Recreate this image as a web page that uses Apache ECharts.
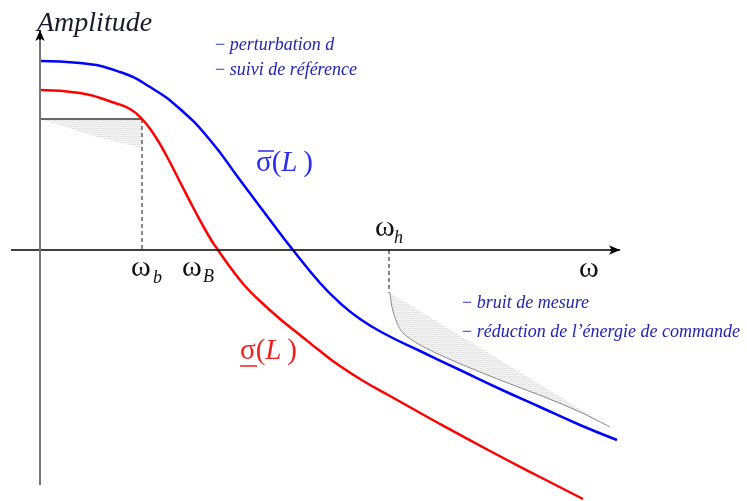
<!DOCTYPE html>
<html>
<head>
<meta charset="utf-8">
<script src="https://cdn.jsdelivr.net/npm/echarts@6/dist/echarts.min.js"></script>
<style>
  html, body { margin: 0; padding: 0; background: #fff; }
  #chart { width: 747px; height: 501px; }
</style>
</head>
<body>
<div id="chart"></div>
<script>
// Log-frequency (x) vs amplitude (y), arbitrary units; 0 on y is the 0 dB line.
const sigmaMaxCurve = [
  [0, 18.9], [4, 18.7], [8, 17.8], [11, 16.3], [14, 14.1], [17, 11.0], [20, 7.0],
  [23, 3.0], [25.3, 0], [28, -3.3], [30, -5.3], [32, -6.9], [34.5, -8.4], [38, -10.1],
  [42, -12.0], [46, -13.9], [50, -15.7], [54, -17.5], [57.7, -19.0]
];
const sigmaMinCurve = [
  [0, 16.0], [4, 15.7], [7.5, 14.7], [9, 14.1], [10.2, 13.1], [11.3, 11.7], [12.5, 9.7],
  [14, 6.8], [15.5, 3.9], [17, 1.2], [17.8, 0], [19, -1.7], [20.5, -3.6], [22, -5.1],
  [24, -6.9], [26, -8.5], [28, -10.1], [30, -11.6], [32.5, -13.2], [35, -14.6],
  [40, -17.4], [45, -20.1], [50, -22.7], [54.3, -24.9]
];
// Low-frequency performance bound (below omega_b)
const omegaB = 10.2;
const lowBoundLevel = 13.1;
const lowZone = [[0, 13.1], [10.2, 13.1], [10.2, 10.2], [5.7, 11.3], [2.3, 12.4], [0.3, 13.0]];
// High-frequency robustness bound (above omega_h)
const omegaH = 34.9;
const highBound = [
  [35, -4.3], [35.2, -5.7], [35.7, -7.3], [36.3, -8.3], [38, -9.5], [40.7, -10.8],
  [44, -12.2], [47.3, -13.5], [50.7, -14.8], [54, -16.2], [57, -17.7]
];
const xAxisSpan = [-2.9, 58];
const yAxisSpan = [-23.5, 22];

const SERIF = '"Liberation Serif", "DejaVu Serif", serif';
const LEGEND_BLUE = '#2424b0';

// fine grey hatching used inside the bound regions
function hatchPattern() {
  const c = document.createElement('canvas');
  c.width = 6; c.height = 6;
  const g = c.getContext('2d');
  g.strokeStyle = 'rgba(120,120,120,0.5)';
  g.lineWidth = 0.6;
  for (let y = 0.5; y < 6; y += 2) {
    g.beginPath(); g.moveTo(0, y); g.lineTo(6, y + 0.6); g.stroke();
  }
  return { image: c, repeat: 'repeat' };
}
const hatch = hatchPattern();

function polygonSeries(points) {
  return {
    type: 'custom',
    silent: true,
    z: 1,
    data: [0],
    renderItem: function (params, api) {
      const pts = points.map(p => api.coord(p));
      return {
        type: 'polygon',
        shape: { points: pts },
        style: { fill: hatch, opacity: 0.9 }
      };
    }
  };
}

const chart = echarts.init(document.getElementById('chart'), null, { renderer: 'canvas' });

function txt(text, x, baseline, size, opts) {
  opts = opts || {};
  return {
    type: 'text', x: x, y: baseline - 0.33 * size, silent: true, z: 10,
    style: Object.assign({
      text: text,
      font: (opts.italic ? 'italic ' : '') + size + 'px ' + SERIF,
      fill: opts.color || '#111',
      verticalAlign: 'middle',
      align: 'left'
    }, opts.style || {})
  };
}

function legendLine(text, x, baseline) {
  return txt('{m|−} ' + text, x, baseline, 18, {
    italic: true, color: LEGEND_BLUE,
    style: { rich: { m: { fontStyle: 'normal', fontFamily: SERIF, fontSize: 18, fill: LEGEND_BLUE } } }
  });
}

function sigmaLabel(x, baseline, color) {
  const base = { fontFamily: SERIF, fontSize: 29, fill: color };
  return txt('{s|σ}{p|(}{l|L\u2009}{p|)}', x, baseline, 29, {
    color: color,
    style: {
      rich: {
        s: Object.assign({}, base),
        p: Object.assign({}, base),
        l: Object.assign({ fontStyle: 'italic' }, base)
      }
    }
  });
}

const option = {
  animation: false,
  backgroundColor: '#fff',
  grid: { left: 0, right: 0, top: 0, bottom: 0 },
  xAxis: { type: 'value', min: -4, max: 70.7, show: false },
  yAxis: { type: 'value', min: -25.1, max: 25.0, show: false },
  series: [
    polygonSeries(lowZone),
    polygonSeries(highBound),
    {
      // grey edge of the high-frequency bound
      type: 'line', data: highBound, smooth: 0.3, symbol: 'none', silent: true, z: 2,
      lineStyle: { color: '#888', width: 1 }
    },
    {
      // reference level at low frequency
      type: 'line', data: [[0, lowBoundLevel], [omegaB, lowBoundLevel]], symbol: 'none', silent: true, z: 2,
      lineStyle: { color: '#666', width: 2 }
    },
    {
      type: 'line', data: [[omegaB, lowBoundLevel], [omegaB, 0]], symbol: 'none', silent: true, z: 2,
      lineStyle: { color: '#111', width: 1, type: [4, 3] }
    },
    {
      type: 'line', data: [[omegaH, 0], [omegaH, highBound[0][1]]], symbol: 'none', silent: true, z: 2,
      lineStyle: { color: '#111', width: 1, type: [4, 3] }
    },
    {
      // axes
      type: 'line', data: [], symbol: 'none', silent: true, z: 3,
      markLine: {
        silent: true, animation: false,
        symbol: ['none', 'none'],
        label: { show: false },
        data: [
          [{ coord: [xAxisSpan[0], 0], lineStyle: { color: '#000', width: 1.5 } },
           { coord: [xAxisSpan[1] - 0.5, 0] }],
          [{ coord: [0, yAxisSpan[0]], lineStyle: { color: '#777', width: 2 } },
           { coord: [0, yAxisSpan[1] - 0.5] }]
        ],
        lineStyle: { type: 'solid' }
      }
    },
    {
      // axis arrow heads
      type: 'line', data: [], symbol: 'none', silent: true, z: 3,
      markLine: {
        silent: true, animation: false,
        symbol: ['none', 'arrow'], symbolSize: [7, 11],
        label: { show: false },
        lineStyle: { type: 'solid', color: '#000', width: 1.5 },
        itemStyle: { color: '#000' },
        data: [
          [{ coord: [xAxisSpan[1] - 1, 0] }, { coord: [xAxisSpan[1], 0] }],
          [{ coord: [0, yAxisSpan[1] - 1] }, { coord: [0, yAxisSpan[1]] }]
        ]
      }
    },
    {
      name: 'sigma max', type: 'line', data: sigmaMaxCurve, smooth: 0.5,
      symbol: 'none', z: 4,
      lineStyle: { color: '#0000ff', width: 2.5 }
    },
    {
      name: 'sigma min', type: 'line', data: sigmaMinCurve, smooth: 0.5,
      symbol: 'none', z: 4,
      lineStyle: { color: '#ff0000', width: 2.5 }
    }
  ],
  graphic: [
    txt('Amplitude', 37, 33, 28, { italic: true, color: '#1a1a2a' }),
    legendLine('perturbation d', 215, 51),
    legendLine('suivi de référence', 215, 76),
    legendLine('bruit de mesure', 462, 309),
    legendLine('réduction de l’énergie de commande', 462, 338),
    sigmaLabel(256, 173, '#2a2af0'),
    { type: 'line', silent: true, z: 10, shape: { x1: 258, y1: 151, x2: 274, y2: 151 }, style: { stroke: '#2a2af0', lineWidth: 1.5 } },
    sigmaLabel(240, 361, '#f02020'),
    { type: 'line', silent: true, z: 10, shape: { x1: 240, y1: 366, x2: 257, y2: 366 }, style: { stroke: '#f02020', lineWidth: 1.5 } },
    txt('ω', 131, 278, 30),
    txt('b', 153, 284, 18, { italic: true }),
    txt('ω', 182, 278, 30),
    txt('B', 203, 283, 18, { italic: true }),
    txt('ω', 375, 238, 30),
    txt('h', 394, 244, 18, { italic: true }),
    txt('ω', 579, 279, 30)
  ]
};
chart.setOption(option);
</script>
</body>
</html>
